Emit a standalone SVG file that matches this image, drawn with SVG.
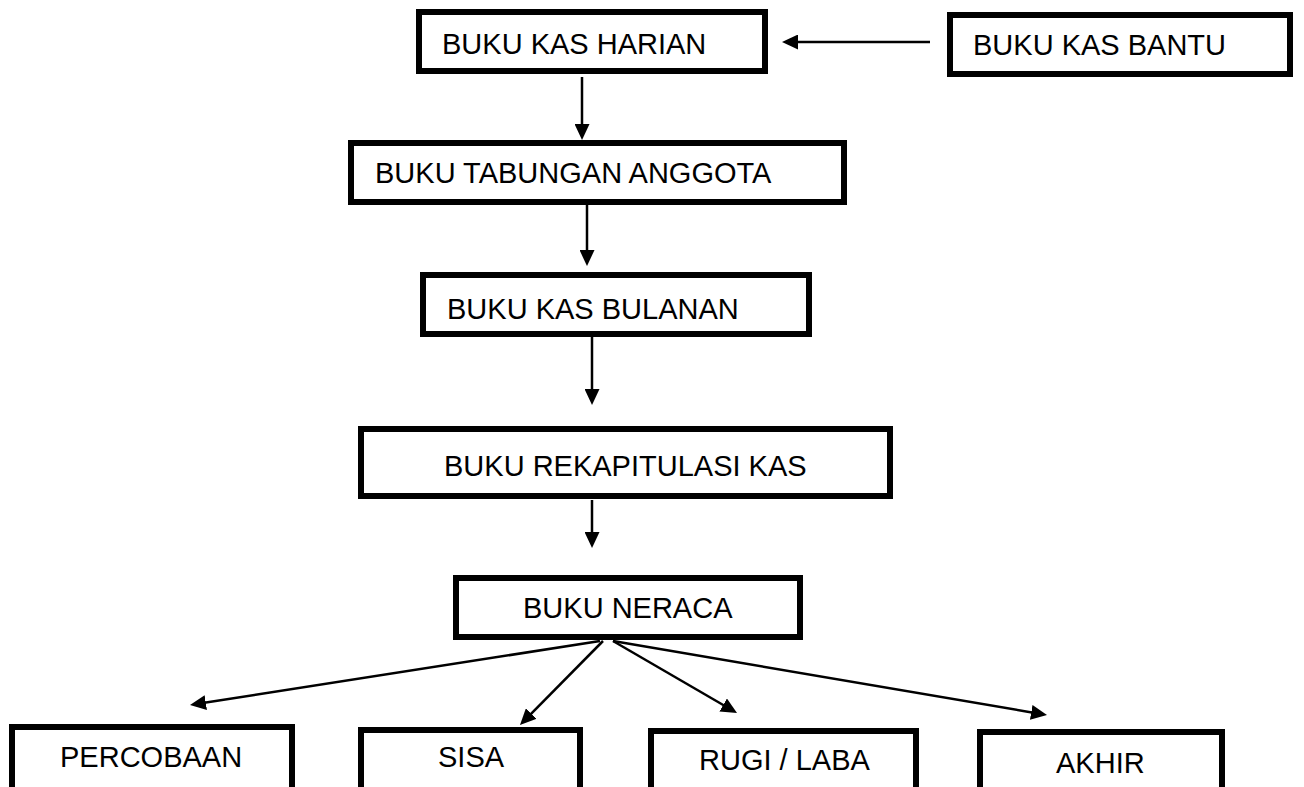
<svg xmlns="http://www.w3.org/2000/svg" width="1304" height="787" viewBox="0 0 1304 787">
<defs>
<style>
.box{fill:#fff;stroke:#000;stroke-width:6}
.lbl{font-family:"Liberation Sans",Arial,sans-serif;font-size:29px;fill:#000}
.con{stroke:#000;stroke-width:2.5;fill:none;marker-end:url(#ah)}
</style>
<marker id="ah" viewBox="0 0 16 15" markerWidth="16" markerHeight="15" refX="8" refY="7.5" orient="auto" markerUnits="userSpaceOnUse">
<path d="M0,0 L16,7.5 L0,15 z" fill="#000"/>
</marker>
</defs>
<rect width="1304" height="787" fill="#fff"/>
<g id="harian"><rect class="box" x="419" y="12" width="346" height="59"/><text class="lbl" x="442" y="54">BUKU KAS HARIAN</text></g>
<g id="bantu"><rect class="box" x="950" y="15" width="340" height="59"/><text class="lbl" x="973" y="55">BUKU KAS BANTU</text></g>
<g id="tabungan"><rect class="box" x="351" y="143" width="493" height="59"/><text class="lbl" x="375" y="183">BUKU TABUNGAN ANGGOTA</text></g>
<g id="bulanan"><rect class="box" x="423" y="275" width="386" height="59"/><text class="lbl" x="447" y="319">BUKU KAS BULANAN</text></g>
<g id="rekap"><rect class="box" x="361" y="429" width="529" height="67"/><text class="lbl" x="444" y="476">BUKU REKAPITULASI KAS</text></g>
<g id="neraca"><rect class="box" x="456" y="578" width="344" height="59"/><text class="lbl" x="523" y="618">BUKU NERACA</text></g>
<g id="percobaan"><rect class="box" x="12" y="727" width="280" height="80"/><text class="lbl" x="60" y="767">PERCOBAAN</text></g>
<g id="sisa"><rect class="box" x="361" y="730" width="219" height="80"/><text class="lbl" x="438" y="767">SISA</text></g>
<g id="rugilaba"><rect class="box" x="651" y="731" width="265" height="80"/><text class="lbl" x="699" y="770">RUGI / LABA</text></g>
<g id="akhir"><rect class="box" x="980" y="732" width="242" height="80"/><text class="lbl" x="1056" y="773">AKHIR</text></g>
<g id="connectors">
<line class="con" x1="930" y1="42" x2="790" y2="42"/>
<line class="con" x1="582" y1="77" x2="582" y2="132"/>
<line class="con" x1="587" y1="205" x2="587" y2="258"/>
<line class="con" x1="592" y1="337" x2="592" y2="397"/>
<line class="con" x1="592" y1="500" x2="592" y2="540"/>
<line class="con" x1="600" y1="641" x2="197.9" y2="703.8"/>
<line class="con" x1="603" y1="641" x2="525.6" y2="719.3"/>
<line class="con" x1="613" y1="641" x2="730.1" y2="709"/>
<line class="con" x1="613" y1="641" x2="1039.1" y2="713.7"/>
</g>
</svg>
